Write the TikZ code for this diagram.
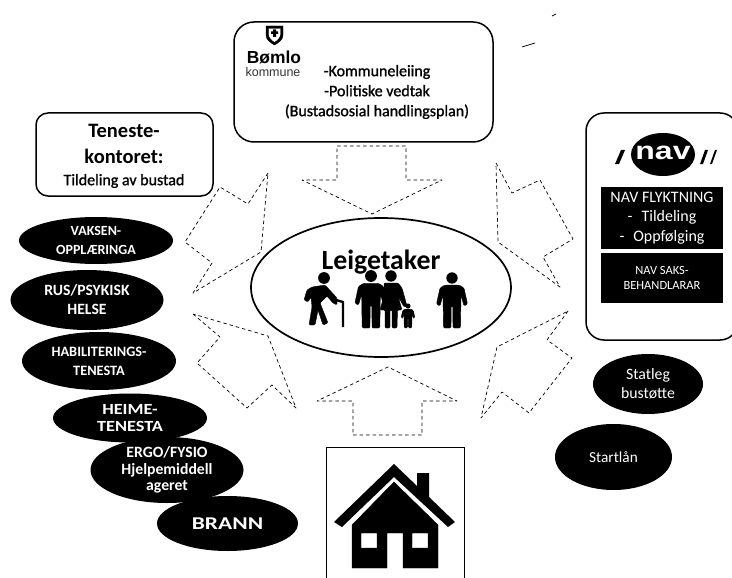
\documentclass[tikz,border=0pt]{standalone}
\usepackage{fontspec}
\setmainfont{Carlito}
\newfontfamily\logofont{Liberation Sans}
\newfontfamily\heavyfont[FakeBold=1.2]{Carlito}
\newfontfamily\widefont[FakeStretch=1.18]{Carlito}
\newfontfamily\widerfont[FakeStretch=1.3]{Carlito}
\newfontfamily\navfont[FakeStretch=1.28]{Liberation Sans}
\usetikzlibrary{shapes.geometric}
\tikzset{
    normal/.style={draw, line width=1.5pt},
    box/.style={style=normal, rounded corners=#1, align=center, inner sep=0},
    blackbox/.style={fill=black, text=white, align=center, inner sep=0},
    oval/.style={ellipse, fill=black, text=white, align=center, inner sep=0, font=\bfseries\fontsize{14}{18.5}\selectfont},
    pil/.style={draw, dash pattern=on 3.5pt off 3pt, line width=0.7pt, line join=round},
    ink/.style={fill=black, line join=round}
}
\newcommand{\person}[3]{
    \begin{scope}[shift={(#1,#2)}, scale=#3]
        \fill (0,0) circle (5.7);
        \filldraw[rounded corners=1.2pt] (-7,7) -- (7,7) -- (12,10) -- (15.5,26) -- (12,28) -- (9,17) -- (8.5,50) -- (1,50) -- (0.8,28) -- (-0.8,28) -- (-1,50) -- (-8.5,50) -- (-9,17) -- (-12,28) -- (-15.5,26) -- (-12,10) -- cycle;
    \end{scope}
}
\begin{document}
\begin{tikzpicture}[x=1pt, y=-1pt]
    \useasboundingbox (0,0) rectangle (732,578);

    \node[box=20pt, minimum width=259pt, minimum height=120pt] (kommune) at (363.5,82) {};
    \node[align=center, inner sep=0, font=\heavyfont\fontsize{16}{20}\selectfont] (leiing) at (377,92) {-Kommuneleiing\\-Politiske vedtak\\(Bustadsosial handlingsplan)};
    \node[inner sep=0, font=\logofont\bfseries\fontsize{17.4}{17.4}\selectfont] (bomlo) at (274,57) {Bømlo};
    \node[inner sep=0, font=\logofont\fontsize{12.5}{12.5}\selectfont, text=black!80] (kommunetekst) at (273,72) {kommune};
    \draw[ink, even odd rule] (266,26) -- (283,26) -- (283,35) .. controls (283,40) and (278,43) .. (274.5,45) .. controls (271,43) and (266,40) .. (266,35) -- cycle
        (268.5,28.5) -- (280.5,28.5) -- (280.5,35) .. controls (280.5,38) and (277,41) .. (274.5,42.5) .. controls (272,41) and (268.5,38) .. (268.5,35) -- cycle;
    \fill (273,29.5) rectangle (276,37) (271,31.5) rectangle (278,34);

    \node[box=12pt, minimum width=177pt, minimum height=83pt] (kontor) at (124.5,154.5) {};
    \node[inner sep=0, font=\bfseries\fontsize{20.5}{26}\selectfont, align=center] (kontortittel) at (124,144) {Teneste-\\kontoret:};
    \node[inner sep=0, font=\heavyfont\fontsize{16}{16}\selectfont] (tildeling) at (124,181) {Tildeling av bustad};

    \node[box=18pt, minimum width=152pt, minimum height=227pt] (nav) at (662,226.5) {};
    \node[ellipse, fill=black, minimum width=64pt, minimum height=43pt, inner sep=0] (navlogo) at (663,154.5) {};
    \node[inner sep=0, text=white, font=\navfont\bfseries\fontsize{25}{25}\selectfont] (navtekst) at (663,153) {nav};
    \fill (615,164) -- (619,164) -- (625,150) -- (621,150) -- cycle;
    \fill (700,164) -- (703,164) -- (708,150) -- (705,150) -- cycle;
    \fill (710,164) -- (712,164) -- (717,150) -- (715,150) -- cycle;
    \node[blackbox, minimum width=122pt, minimum height=62pt, font=\fontsize{16}{19.5}\selectfont] (flyktning) at (662,218) {NAV FLYKTNING\\-\hspace{9pt}Tildeling\\-\hspace{9pt}Oppfølging};
    \node[blackbox, minimum width=122pt, minimum height=50pt, font=\fontsize{12.5}{15}\selectfont] (saks) at (662,278) {NAV SAKS-\\BEHANDLARAR};

    \node[normal, line width=1.7pt, ellipse, minimum width=260pt, minimum height=139pt, inner sep=0] (leigetaker) at (381,287.5) {};
    \node[inner sep=0, font=\bfseries\fontsize{27.8}{27.8}\selectfont] (leigetakertekst) at (381,262) {Leigetaker};
    \person{452}{278}{1}
    \person{371}{276}{1.04}
    \person{408}{306}{0.44}
    \fill (391,276) circle (5.7);
    \filldraw[rounded corners=1.2pt] (384,283) -- (398,283) -- (402,288) -- (407,306) -- (404,307) -- (398,296) -- (402,310) -- (397.5,310) -- (397,328) -- (392,328) -- (392,310) -- (390,310) -- (390,328) -- (385,328) -- (385,310) -- (380,310) -- (384,296) -- cycle;
    \fill (324,278) circle (5.9);
    \filldraw[rounded corners=1.2pt] (307,290) -- (312,287) -- (325,285) -- (337,298) -- (337,305) -- (333,303) -- (327,296) -- (320,303) -- (328,323) -- (323,325) -- (318,310) -- (315,325) -- (309,325) -- (312,307) -- (311,297) -- (308,302) -- (304,300) -- cycle;
    \draw[line width=2.4pt, line join=round] (336,300) -- (343,302) -- (343,327);

    \node[normal, line width=0.9pt, minimum width=138pt, minimum height=134pt, inner sep=0] (hus) at (395,514) {};
    \fill (394,464) -- (417,486) -- (417,473) -- (429,473) -- (429,497) -- (455,522) -- (448,527) -- (394,477) -- (342,527) -- (334,522) -- cycle;
    \draw[ink, even odd rule] (394,482) -- (438,525) -- (438,568) -- (403,568) -- (403,533) -- (387,533) -- (387,568) -- (352,568) -- (352,525) -- cycle
        (361,533) rectangle (377,548) (412,533) rectangle (428,548);

    \node[oval, minimum width=154pt, minimum height=47pt] (vaksen) at (96,240.5) {VAKSEN-\\OPPLÆRINGA};
    \node[oval, minimum width=153pt, minimum height=60pt, font=\bfseries\fontsize{15.7}{19}\selectfont] (rus) at (87,300) {RUS/PSYKISK\\HELSE};
    \node[oval, minimum width=154pt, minimum height=58pt, font=\bfseries\fontsize{14.3}{19}\selectfont] (habilitering) at (99,361) {HABILITERINGS-\\TENESTA};
    \node[oval, minimum width=154pt, minimum height=49pt, font=\widefont\bfseries\fontsize{15.5}{17}\selectfont] (heime) at (130,418) {HEIME-\\TENESTA};
    \node[oval, minimum width=153pt, minimum height=53pt, font=\bfseries\fontsize{15.7}{16.5}\selectfont] (ergo) at (167,470) {ERGO/FYSIO\\Hjelpemiddell\\ageret};
    \node[oval, minimum width=141pt, minimum height=55pt, font=\widerfont\bfseries\fontsize{18}{18}\selectfont] (brann) at (227.5,523.5) {BRANN};
    \node[oval, minimum width=110pt, minimum height=60pt, font=\fontsize{15.8}{19}\selectfont] (statleg) at (648,384) {Statleg\\bustøtte};
    \node[oval, minimum width=117pt, minimum height=66pt, font=\fontsize{15.3}{15}\selectfont] (startlan) at (613.5,457) {Startlån};

    \draw[pil] (337,146) -- (406,146) -- (406,180) -- (442,180) -- (372,214) -- (302,180) -- (337,180) -- cycle;
    \draw[pil] (353,435) -- (422,435) -- (422,401) -- (457,401) -- (388,367) -- (317,401) -- (353,401) -- cycle;
    \draw[pil] (268,173) -- (248,204) -- (220,187) -- (185,242) -- (212,263) -- (193,293) -- (261,252) -- cycle;
    \draw[pil] (496,163) -- (512,193) -- (540,180) -- (573,239) -- (543,257) -- (560,287) -- (498,242) -- cycle;
    \draw[pil] (193,314) -- (220,337) -- (197,363) -- (247,408) -- (272,385) -- (296,408) -- (268,336) -- cycle;
    \draw[pil] (568,311) -- (547,340) -- (572,358) -- (529,413) -- (502,392) -- (481,418) -- (497,347) -- cycle;
    \draw[line width=0.7pt] (522,47) -- (535,43) (552,16) -- (556,14);
\end{tikzpicture}
\end{document}
